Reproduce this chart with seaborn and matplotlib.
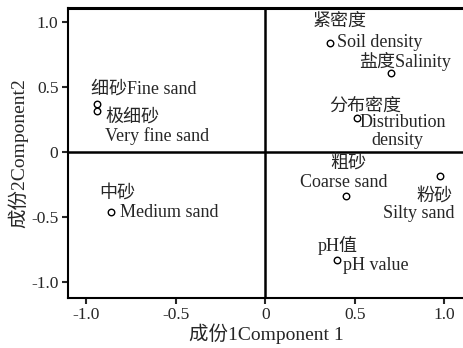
import matplotlib
matplotlib.use("Agg")
import matplotlib.pyplot as plt
import seaborn as sns
import pandas as pd

# Loadings
names = ["细砂Fine sand", "极细砂", "紧密度", "盐度Salinity", "分布密度",
         "粗砂", "粉砂", "pH值", "中砂"]
comp1 = [-0.94, -0.94, 0.36, 0.70, 0.51, 0.45, 0.975, 0.40, -0.86]
comp2 = [0.37, 0.32, 0.84, 0.61, 0.26, -0.34, -0.185, -0.83, -0.46]

df = pd.DataFrame({"name": names, "c1": comp1, "c2": comp2})

sns.set_style("white")
plt.rcParams['font.family'] = ['Liberation Serif', 'Noto Sans CJK SC']
plt.rcParams['axes.unicode_minus'] = False

fig = plt.figure(figsize=(4.64, 3.48), dpi=100)
ax = fig.add_axes([0.147, 0.145, 0.853, 0.832])

ax.axhline(0, color='black', lw=1.8, zorder=1)
ax.axvline(0, color='black', lw=1.8, zorder=1)

sns.scatterplot(data=df, x="c1", y="c2", ax=ax, s=22, marker='o',
                facecolor='white', edgecolor='black', linewidth=1.0, zorder=3)

# label texts: (point index, text, offset in pixels)
labels = [
    (0, "细砂Fine sand", (-6, 15)),
    (1, "极细砂", (9, -7)),
    (1, "Very fine sand", (8, -25)),
    (2, "紧密度", (-17, 22)),
    (2, "Soil density", (7, 1)),
    (3, "盐度Salinity", (-31, 11)),
    (4, "分布密度", (-27, 12)),
    (4, "Distribution", (3, -4)),
    (4, "density", (15, -22)),
    (5, "粗砂", (-16, 33)),
    (5, "Coarse sand", (-46, 14)),
    (6, "粉砂", (-23, -20)),
    (6, "Silty sand", (-57, -37)),
    (7, "pH值", (-19, 14)),
    (7, "pH value", (6, -6)),
    (8, "中砂", (-12, 19)),
    (8, "Medium sand", (9, -1)),
]
for i, txt, off in labels:
    ax.annotate(txt, (comp1[i], comp2[i]), xytext=off, textcoords='offset pixels',
                ha='left', va='center', fontsize=13, zorder=4)

ax.set_xlim(-1.1, 1.11)
ax.set_ylim(-1.12, 1.11)
ax.set_xticks([-1.0, -0.5, 0, 0.5, 1.0])
ax.set_xticklabels(["-1.0", "-0.5", "0", "0.5", "1.0"])
ax.set_yticks([1.0, 0.5, 0, -0.5, -1.0])
ax.set_yticklabels(["1.0", "0.5", "0", "-0.5", "-1.0"])
ax.tick_params(direction='out', length=4, width=1.5, labelsize=12.5,
               bottom=True, left=True, pad=3)

for side in ['left', 'bottom']:
    ax.spines[side].set_linewidth(1.5)
ax.spines['top'].set_linewidth(2.2)
ax.spines['right'].set_visible(False)
for sp in ax.spines.values():
    sp.set_color('black')

ax.set_xlabel("成份1Component 1", fontsize=14, labelpad=0)
ax.set_ylabel("成份2Component2", fontsize=14, labelpad=2)

fig.savefig("out.png", dpi=100)
